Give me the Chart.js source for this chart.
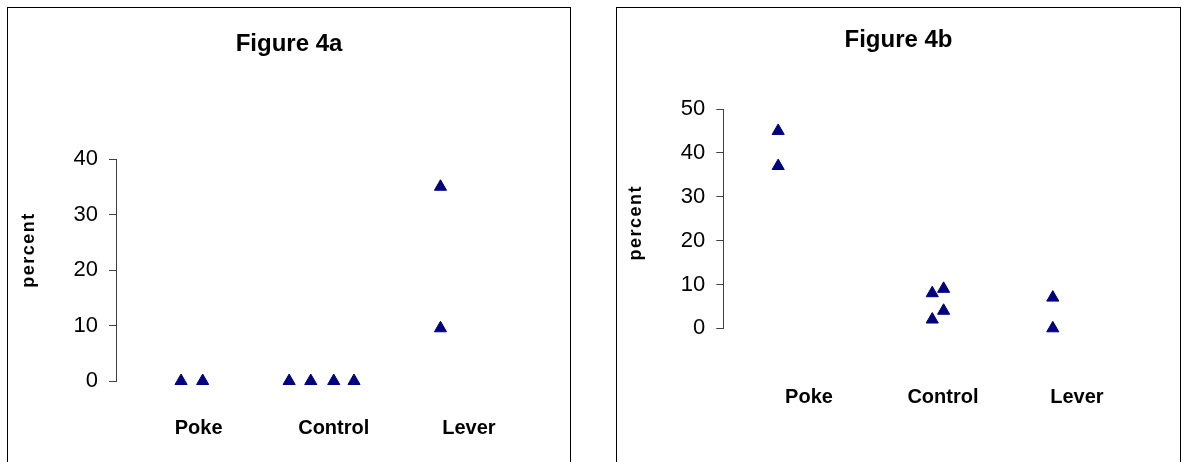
<!DOCTYPE html>
<html>
<head>
<meta charset="utf-8">
<script src="https://cdn.jsdelivr.net/npm/chart.js@4/dist/chart.umd.min.js"></script>
<style>
  html, body { margin: 0; padding: 0; background: #fff; }
  body { width: 1182px; height: 462px; position: relative; overflow: hidden; }
  .panel { position: absolute; top: 7px; height: 480px; border: 1px solid #000; border-bottom: none; box-sizing: border-box; background: #fff; overflow: hidden; }
  #panelA { left: 7px; width: 564px; }
  #panelB { left: 616px; width: 565px; }
  .panel canvas { position: absolute; left: 0; top: 0; }
</style>
</head>
<body>
<div class="panel" id="panelA"><canvas id="fig4a" width="562" height="470"></canvas></div>
<div class="panel" id="panelB"><canvas id="fig4b" width="563" height="470"></canvas></div>
<script>
// Groups along the horizontal axis (tick positions 1, 2, 3)
const categories = ['Poke', 'Control', 'Lever'];

// Figure 4a: spread position of each animal within its group, and percent
const fig4aPokeX = [0.87, 1.03];
const fig4aPokeY = [0, 0];
const fig4aControlX = [1.67, 1.83, 2.0, 2.15];
const fig4aControlY = [0, 0, 0, 0];
const fig4aLeverX = [2.79, 2.79];
const fig4aLeverY = [35, 9.5];
const fig4aTicks = [0, 10, 20, 30, 40];

// Figure 4b
const fig4bPokeX = [0.77, 0.77];
const fig4bPokeY = [45, 37];
const fig4bControlX = [1.92, 1.92, 2.005, 2.005];
const fig4bControlY = [8, 2, 9, 4];
const fig4bLeverX = [2.82, 2.82];
const fig4bLeverY = [7, 0];
const fig4bTicks = [0, 10, 20, 30, 40, 50];

const NAVY = '#000080';
const AXIS = '#404040';
Chart.defaults.font.family = '"Liberation Sans", Arial, Helvetica, sans-serif';
Chart.defaults.color = '#000';

const points = (xs, ys) => xs.map((x, i) => ({ x: x, y: ys[i] }));

// Rotated y-axis caption, placed beside the axis
const yCaption = {
  id: 'yCaption',
  afterDraw(chart, args, o) {
    const { ctx, chartArea } = chart;
    ctx.save();
    ctx.font = o.font;
    if ('letterSpacing' in ctx) ctx.letterSpacing = o.spacing;
    ctx.fillStyle = '#000';
    ctx.textAlign = 'center';
    ctx.textBaseline = 'middle';
    ctx.translate(o.x, (chartArea.top + chartArea.bottom) / 2 + o.dy);
    ctx.rotate(-Math.PI / 2);
    ctx.fillText(o.text, 0, 0);
    ctx.restore();
  }
};

function makeChart(id, cfg) {
  const data = [].concat(
    points(cfg.pokeX, cfg.pokeY),
    points(cfg.controlX, cfg.controlY),
    points(cfg.leverX, cfg.leverY)
  );
  return new Chart(document.getElementById(id), {
    type: 'scatter',
    data: {
      datasets: [{
        data: data,
        clip: false,
        pointStyle: 'triangle',
        pointRadius: 7,
        pointHoverRadius: 7,
        borderWidth: 1,
        backgroundColor: NAVY,
        borderColor: NAVY
      }]
    },
    plugins: [yCaption],
    options: {
      responsive: false,
      animation: false,
      layout: { padding: { left: 0, top: 0, right: 0, bottom: cfg.padBottom } },
      plugins: {
        legend: { display: false },
        tooltip: { enabled: false },
        title: {
          display: true,
          text: cfg.title,
          color: '#000',
          font: { size: 24, weight: 'bold' },
          padding: { top: cfg.titleTop, bottom: cfg.titleBottom }
        },
        yCaption: {
          text: 'percent',
          font: 'bold 18px "Liberation Sans", Arial, sans-serif',
          spacing: '1.5px',
          x: cfg.captionX,
          dy: cfg.captionDy
        }
      },
      scales: {
        x: {
          type: 'linear',
          min: cfg.xMin,
          max: cfg.xMax,
          grid: { display: false, drawTicks: false },
          border: { display: false },
          afterBuildTicks: (s) => { s.ticks = categories.map((c, i) => ({ value: i + 1 })); },
          ticks: {
            autoSkip: false,
            maxRotation: 0,
            padding: cfg.xLabelPad,
            font: { size: 20, weight: 'bold' },
            color: '#000',
            callback: (v) => categories[Math.round(v) - 1]
          }
        },
        y: {
          min: cfg.ticks[0],
          max: cfg.ticks[cfg.ticks.length - 1],
          afterBuildTicks: (s) => { s.ticks = cfg.ticks.map(v => ({ value: v })); },
          afterFit: (s) => { s.width = cfg.axisLeft; },
          grid: { drawOnChartArea: false, drawTicks: true, tickLength: 7, color: AXIS, lineWidth: 1 },
          border: { display: true, color: AXIS, width: 1 },
          ticks: { padding: 11, font: { size: 22 }, color: '#000' }
        }
      }
    }
  });
}

makeChart('fig4a', {
  title: 'Figure 4a',
  pokeX: fig4aPokeX, pokeY: fig4aPokeY,
  controlX: fig4aControlX, controlY: fig4aControlY,
  leverX: fig4aLeverX, leverY: fig4aLeverY,
  ticks: fig4aTicks,
  xMin: 0.3885, xMax: 3.6894,
  axisLeft: 108, padBottom: 2,
  titleTop: 22.2, titleBottom: 100,
  xLabelPad: 35.5,
  captionX: 21.5, captionDy: -20
});

makeChart('fig4b', {
  title: 'Figure 4b',
  pokeX: fig4bPokeX, pokeY: fig4bPokeY,
  controlX: fig4bControlX, controlY: fig4bControlY,
  leverX: fig4bLeverX, leverY: fig4bLeverY,
  ticks: fig4bTicks,
  xMin: 0.3604, xMax: 3.7097,
  axisLeft: 106.3, padBottom: 10.7,
  titleTop: 17.7, titleBottom: 54.5,
  xLabelPad: 57.5,
  captionX: 19.3, captionDy: 4
});
</script>
</body>
</html>
